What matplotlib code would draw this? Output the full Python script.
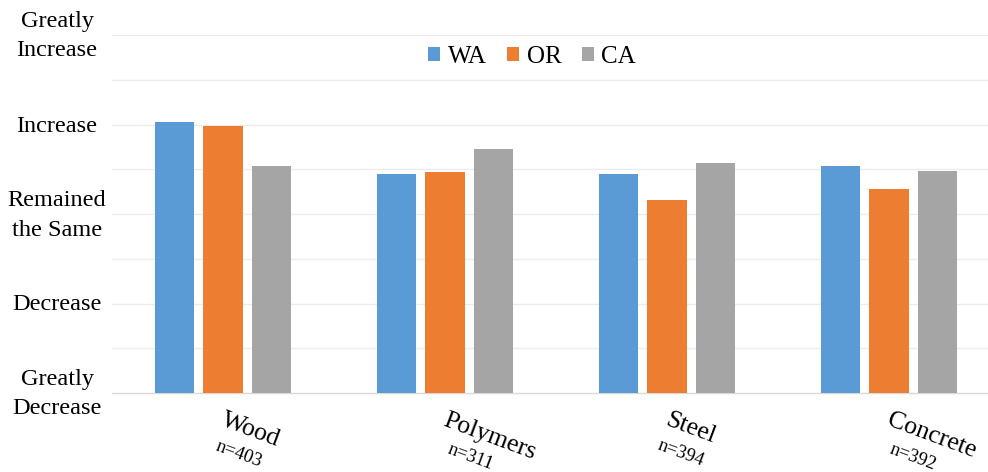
import matplotlib
matplotlib.use("Agg")
import matplotlib.pyplot as plt
import matplotlib.transforms as mtransforms
from matplotlib.patches import Patch
import numpy as np

# Survey results: perceived change in use of each structural material
materials = ["Wood", "Polymers", "Steel", "Concrete"]
sample_sizes = ["n=403", "n=311", "n=394", "n=392"]
states = ["WA", "OR", "CA"]
wa_scores = [4.03, 3.45, 3.45, 3.54]
or_scores = [3.98, 3.47, 3.16, 3.28]
ca_scores = [3.54, 3.73, 3.57, 3.48]
scale_labels = ["Greatly\nDecrease", "Decrease", "Remained\nthe Same", "Increase", "Greatly\nIncrease"]
scale_values = [1, 2, 3, 4, 5]

colors = ["#5B9BD5", "#ED7D31", "#A5A5A5"]
series = [wa_scores, or_scores, ca_scores]

plt.rcParams["font.family"] = ["Liberation Serif", "DejaVu Serif"]

fig = plt.figure(figsize=(9.88, 4.72), dpi=100)
ax = fig.add_axes([112 / 988, 79 / 472, 888 / 988, 358 / 472])

x = np.arange(len(materials))
step = 0.2207
width = 0.1757
for k, (vals, col) in enumerate(zip(series, colors)):
    ax.bar(x + (k - 1) * step, np.array(vals) - 1, bottom=1, width=width,
           color=col, edgecolor="none", zorder=3)

ax.set_xlim(-0.5, len(materials) - 0.5)
ax.set_ylim(1, 5)

# horizontal gridlines every half step
for yv in np.arange(1.5, 5.01, 0.5):
    ax.axhline(yv, color="#ececec", linewidth=1.0, zorder=1)

for side in ["top", "right", "left"]:
    ax.spines[side].set_visible(False)
ax.spines["bottom"].set_color("#d9d9d9")
ax.spines["bottom"].set_linewidth(1.0)

ax.set_yticks([])
ax.set_xticks([])

# scale labels, centred in the left margin beside their gridline
ylab_tr = mtransforms.blended_transform_factory(fig.transFigure, ax.transData) + \
    mtransforms.ScaledTranslation(0, -1.5 / 100, fig.dpi_scale_trans)
for val, lab in zip(scale_values, scale_labels):
    ax.text(57 / 988, val, lab, transform=ylab_tr, ha="center", va="center",
            multialignment="center", fontsize=17.5, linespacing=1.5, clip_on=False)

# rotated two-line category labels: material name with sample size beneath
angle = -20.5
rad = np.deg2rad(angle)
base_dir = np.array([np.cos(rad), np.sin(rad)])
down_dir = np.array([np.sin(rad), -np.cos(rad)])
renderer = fig.canvas.get_renderer()
blend = mtransforms.blended_transform_factory(ax.transData, ax.transAxes)
line_gap = 29.0  # px
name_size = 18.5
count_size = 13.5
for i, (name, nlab) in enumerate(zip(materials, sample_sizes)):
    probe1 = fig.text(0, 0, name, fontsize=name_size)
    probe2 = fig.text(0, 0, nlab, fontsize=count_size)
    w1 = probe1.get_window_extent(renderer).width
    w2 = probe2.get_window_extent(renderer).width
    probe1.remove()
    probe2.remove()
    off1 = np.array([3.0, -16.0])
    tr1 = blend + mtransforms.ScaledTranslation(off1[0] / 100, off1[1] / 100, fig.dpi_scale_trans)
    ax.text(i, 0, name, transform=tr1, rotation=angle, rotation_mode="anchor",
            ha="left", va="top", fontsize=name_size, clip_on=False)
    shift = 0.55 * (w1 - w2) / 2
    off2 = off1 + base_dir * shift + down_dir * line_gap
    tr2 = blend + mtransforms.ScaledTranslation(off2[0] / 100, off2[1] / 100, fig.dpi_scale_trans)
    ax.text(i, 0, nlab, transform=tr2, rotation=angle, rotation_mode="anchor",
            ha="left", va="top", fontsize=count_size, clip_on=False)

handles = [Patch(facecolor=c, edgecolor="none") for c in colors]
fig.legend(handles, states, loc="center", bbox_to_anchor=(532 / 988, 1 - 57 / 472),
           ncol=3, frameon=False, fontsize=18, handlelength=0.5, handleheight=0.5,
           handletextpad=0.3, columnspacing=0.8, borderpad=0)

fig.savefig("out.png", dpi=100, facecolor="white")
